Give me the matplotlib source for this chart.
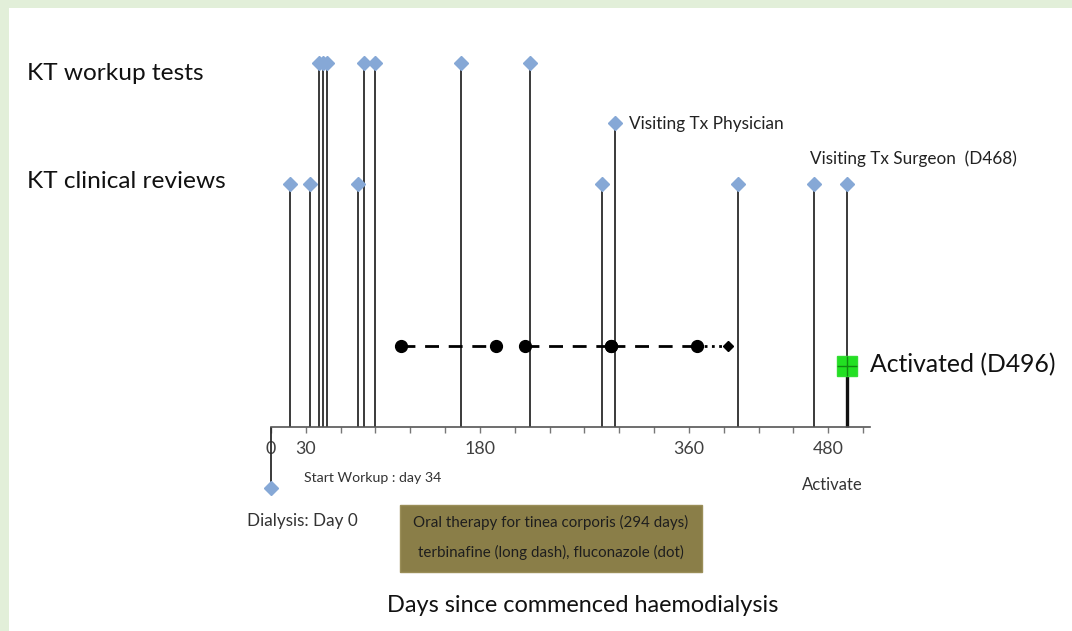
import numpy as np
import matplotlib
matplotlib.use("Agg")
from matplotlib import pyplot as plt
from matplotlib.patches import Rectangle

plt.rcParams['font.family'] = ['Lato', 'DejaVu Sans']

# event days (days since commenced haemodialysis)
workup_days = [41, 45, 48, 80, 90, 164, 223]
review_days = [16, 34, 75, 285, 402, 468, 496]
physician_day = [296]
dialysis_day = [0]
activated_day = [496]
# oral therapy for tinea corporis
terbinafine = [(112, 194), (219, 293), (293, 367)]
fluconazole = [(367, 394)]
tick_days = list(range(0, 511, 30))
tick_text = {0: '0', 30: '30', 180: '180', 360: '360', 480: '480'}

# row heights
WORKUP, REVIEW, PHYS, THERAPY, ACT, DIAL = 3.0, 2.0, 2.5, 0.67, 0.5, -0.5

stem_col = '#2b2b2b'
dia_col = '#86a8d6'

fig = plt.figure(figsize=(10.72, 6.31), dpi=100, facecolor='#e2efd9')
# white page with a thin green frame on top and left
bg = fig.add_axes([0, 0, 1, 1], zorder=-1)
bg.axis('off')
bg.add_patch(Rectangle((9 / 1072, 0), 1, 1 - 8 / 631, transform=bg.transAxes,
                       facecolor='white', edgecolor='none'))

ax = fig.add_axes([0, 0, 1, 1])
ax.set_facecolor('none')
# map pixel layout: day 0 at x=271px, 1.161 px/day; y 0 at 427px, 121.5 px/unit
ax.set_xlim(-271 / 1.161, (1072 - 271) / 1.161)
ax.set_ylim(-(631 - 427) / 121.5, 427 / 121.5)

for spine in ['top', 'right', 'left']:
    ax.spines[spine].set_visible(False)
ax.spines['bottom'].set_position(('data', 0))
ax.spines['bottom'].set_bounds(0, 516)
ax.spines['bottom'].set_color('#555555')
ax.spines['bottom'].set_linewidth(1.2)
ax.set_xticks(tick_days)
ax.set_xticklabels([tick_text.get(d, '') for d in tick_days])
ax.tick_params(axis='x', direction='out', length=4, width=1, color='#777777',
               labelsize=12.8, labelcolor='#404040', pad=6)
ax.set_yticks([])


def stems(days, level, lw=1.3, color=stem_col):
    ax.vlines(days, 0, level, colors=color, lw=lw, zorder=2)


stems(workup_days, WORKUP)
stems(review_days, REVIEW)
stems(physician_day, PHYS)
stems(dialysis_day, DIAL)
stems(activated_day, ACT, lw=2.4, color='#111111')

ax.plot(workup_days, [WORKUP] * len(workup_days), 'D', color=dia_col, ms=7.5, zorder=3)
ax.plot(review_days, [REVIEW] * len(review_days), 'D', color=dia_col, ms=7.5, zorder=3)
ax.plot(physician_day, [PHYS], 'D', color=dia_col, ms=7.5, zorder=3)
ax.plot(dialysis_day, [DIAL], 'D', color=dia_col, ms=7.5, zorder=3)

# therapy timeline
for a, b in terbinafine:
    ax.plot([a, b], [THERAPY, THERAPY], color='black', lw=2, dashes=(5, 3.5), zorder=3)
    ax.plot([a, b], [THERAPY, THERAPY], 'o', color='black', ms=8.5, zorder=4)
for a, b in fluconazole:
    ax.plot([a, b], [THERAPY, THERAPY], color='black', lw=2, dashes=(1, 1.6), zorder=3)
    ax.plot([b], [THERAPY], 'D', color='black', ms=5, zorder=4)

# activation marker
ax.plot(activated_day, [ACT], 's', color='#22e022', mec='#33dd33', ms=14, zorder=5)
ax.plot(activated_day, [ACT], '+', color='#118811', ms=14, mew=1, zorder=6)

# texts
ax.text(-210, 2.91, 'KT workup tests', fontsize=17.6, va='center', ha='left', color='#111111')
ax.text(-210, 2.02, 'KT clinical reviews', fontsize=17.6, va='center', ha='left', color='#111111')
ax.text(physician_day[0] + 12, PHYS - 0.01, 'Visiting Tx Physician', fontsize=12.4,
        va='center', ha='left', color='#222222')
ax.text(464, 2.21, 'Visiting Tx Surgeon  (D468)', fontsize=12.3,
        va='center', ha='left', color='#222222')
ax.text(activated_day[0] + 20, ACT + 0.01, 'Activated (D496)', fontsize=17.8,
        va='center', ha='left', color='#111111')
ax.text(28, -0.42, 'Start Workup : day 34', fontsize=10.2, va='center', ha='left', color='#333333')
ax.text(-21, -0.77, 'Dialysis: Day 0', fontsize=12.3, va='center', ha='left', color='#333333')
ax.text(457, -0.48, 'Activate', fontsize=12, va='center', ha='left', color='#333333')

box_x0, box_x1 = (400 - 271) / 1.161, (702 - 271) / 1.161
ax.add_patch(Rectangle((box_x0, (427 - 572) / 121.5), box_x1 - box_x0, 67 / 121.5,
                       facecolor='#8a7e48', edgecolor='#9a8e58', zorder=1))
ax.text((box_x0 + box_x1) / 2, (427 - 522) / 121.5, 'Oral therapy for tinea corporis (294 days)',
        fontsize=10.9, va='center', ha='center', color='#1e1e1e')
ax.text((box_x0 + box_x1) / 2, (427 - 552) / 121.5, 'terbinafine (long dash), fluconazole (dot)',
        fontsize=10.9, va='center', ha='center', color='#1e1e1e')

ax.text((583 - 271) / 1.161, (427 - 606) / 121.5, 'Days since commenced haemodialysis',
        fontsize=16.9, va='center', ha='center', color='#111111')

fig.savefig('out.png', dpi=100, facecolor=fig.get_facecolor())
